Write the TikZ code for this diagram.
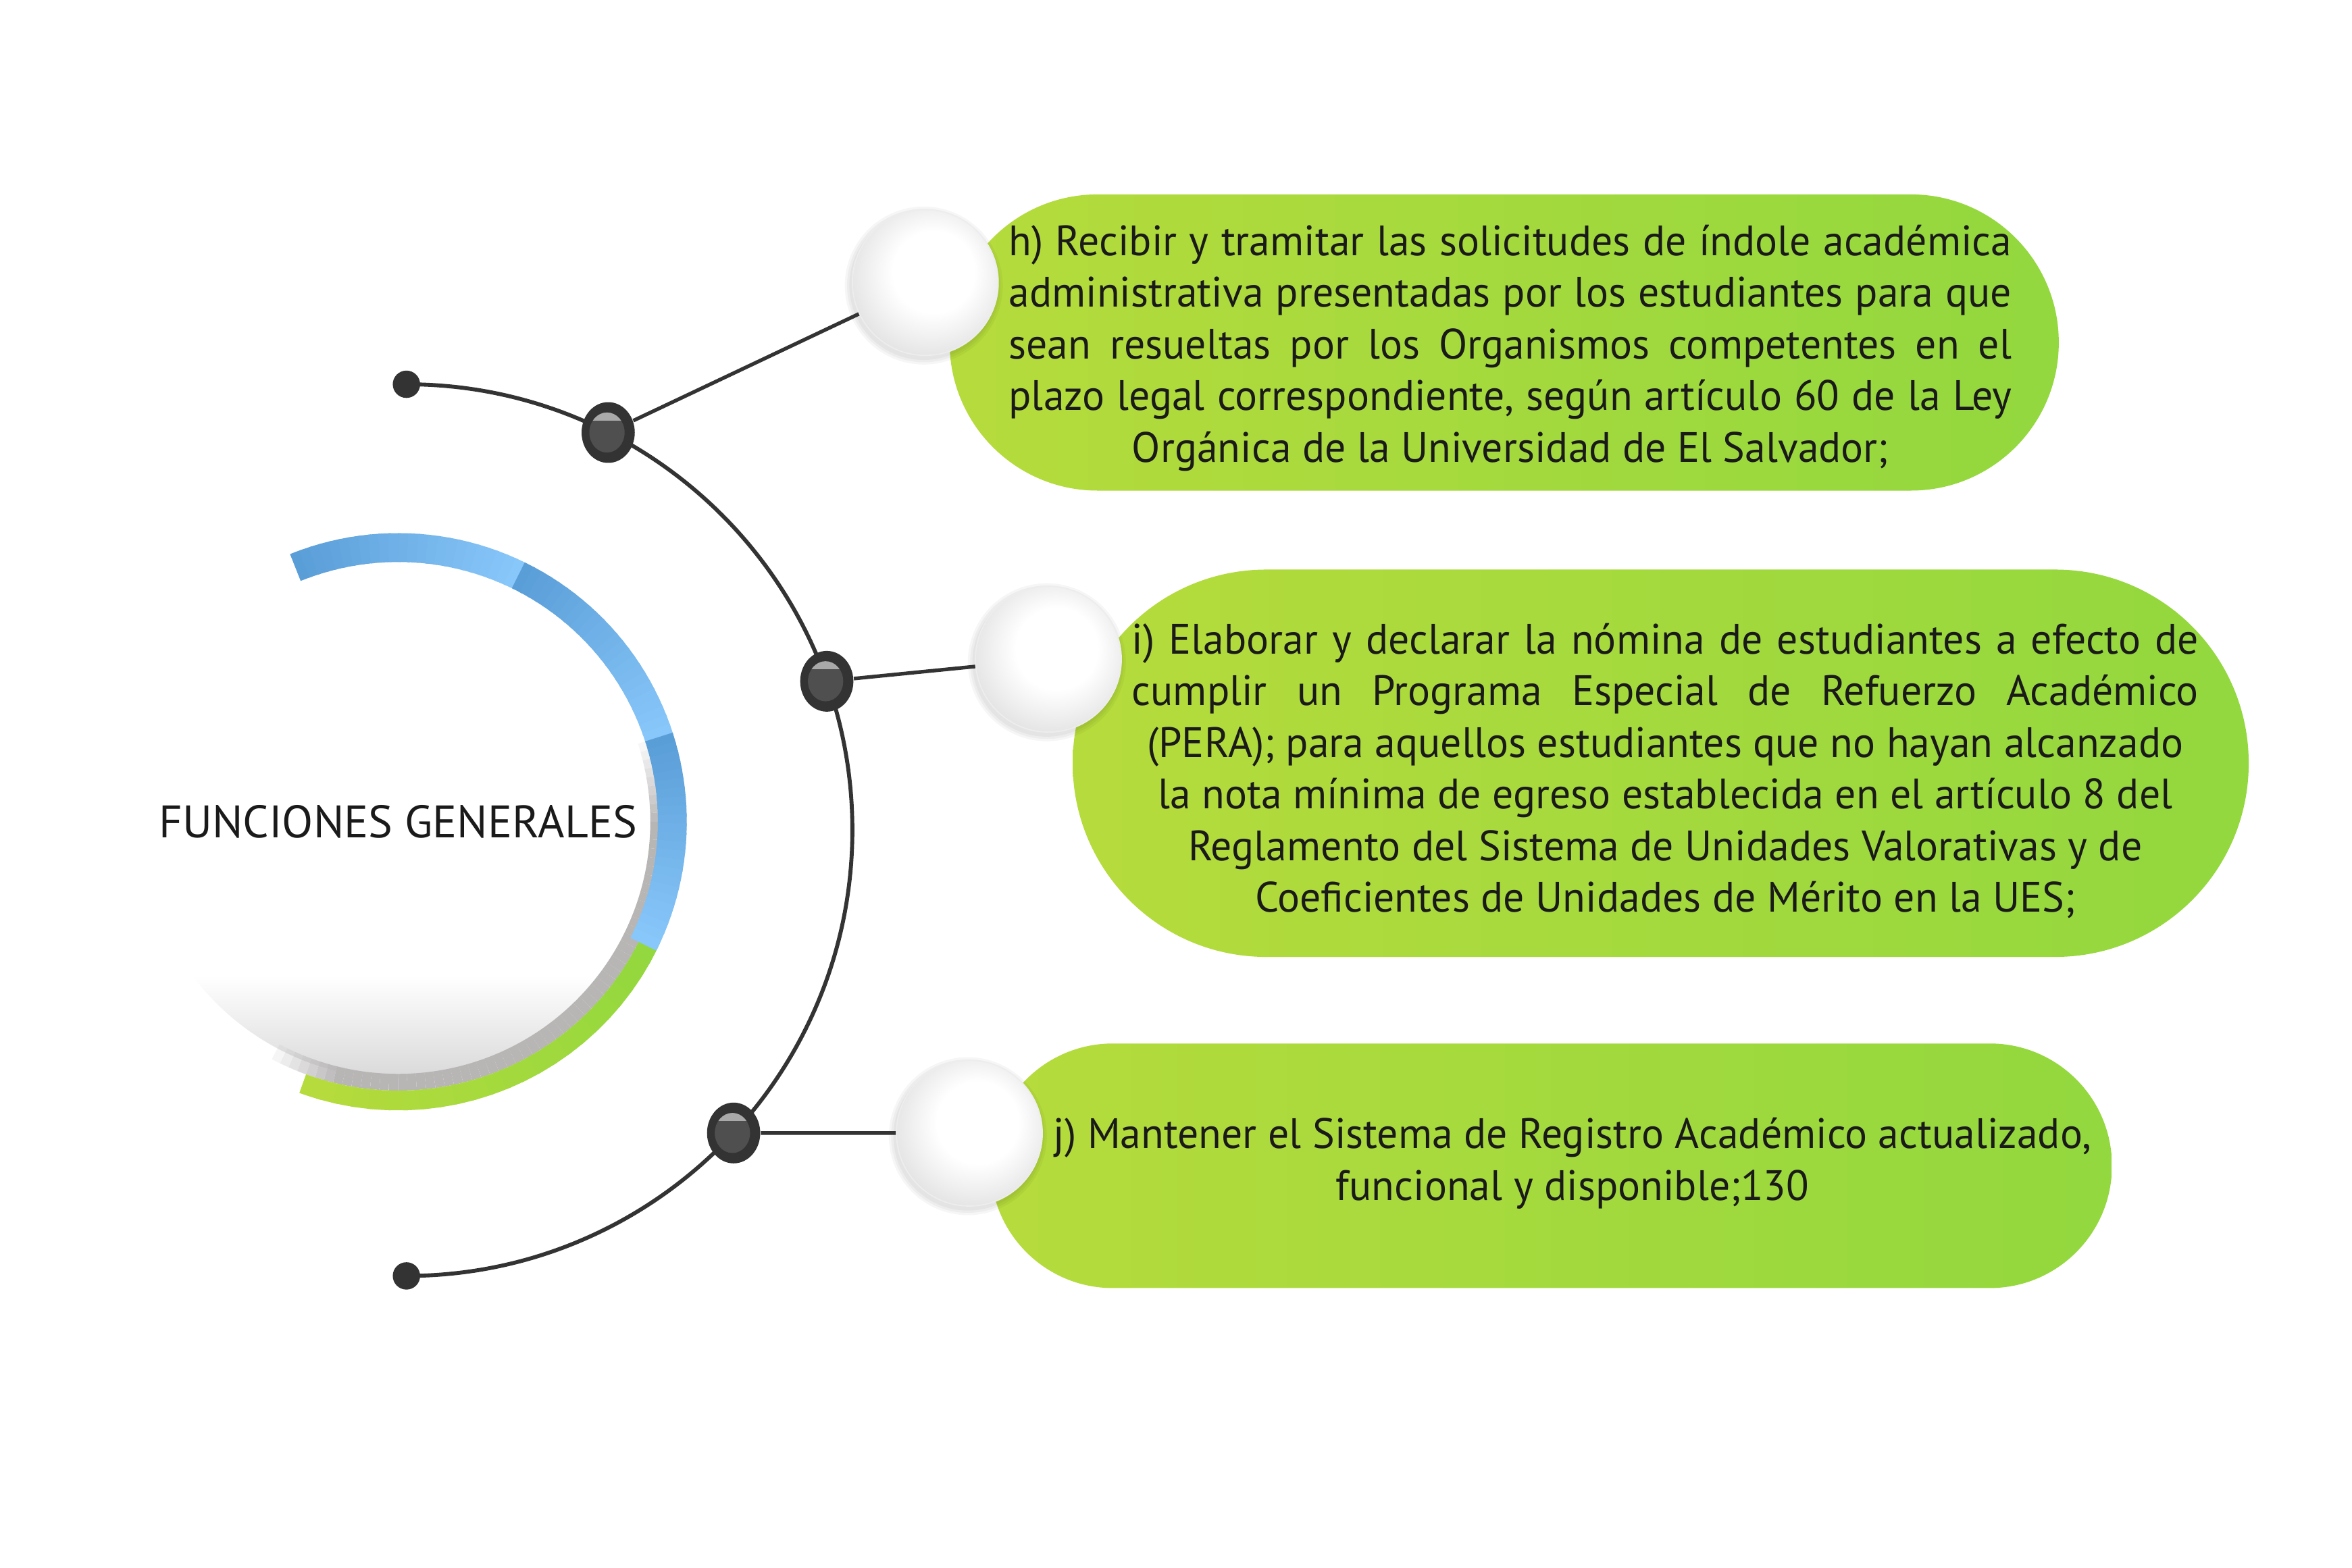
\documentclass[tikz,border=0pt]{standalone}
\usepackage{fontspec}
\setmainfont{PT Sans}
\newfontfamily\bodyfont[FakeStretch=0.98]{PT Sans}
\newfontfamily\titlefont{PT Sans}
\usetikzlibrary{shapes.geometric}
\definecolor{dk}{HTML}{333333}
\definecolor{dkin}{HTML}{4F4F4F}
\definecolor{hl}{HTML}{A9A9A9}
\definecolor{bluedk}{RGB}{90,158,216}
\definecolor{bluelt}{RGB}{136,199,250}
\definecolor{ringgray}{RGB}{184,181,181}
\definecolor{grnA}{RGB}{182,219,60}
\definecolor{grnB}{RGB}{146,216,62}
\definecolor{txtc}{HTML}{1A1A1A}
\pgfdeclareverticalshading{diskshade}{100bp}{color(0bp)=(black!15); color(25bp)=(black!15); color(35bp)=(white); color(100bp)=(white)}
\pgfdeclareradialshading{ballshade}{\pgfpoint{4bp}{5bp}}{color(0bp)=(white); color(14bp)=(white); color(30bp)=(black!12); color(50bp)=(black!12)}
\tikzset{
  conn/.style={draw=dk, line width=1.2pt},
  enddot/.style={circle, fill=dk, inner sep=0pt, minimum size=9pt},
  junction/.style={ellipse, fill=dk, inner sep=0pt, minimum width=17.5pt, minimum height=20pt,
    path picture={
      \fill[dkin] ([xshift=-0.4pt]path picture bounding box.center) ellipse[x radius=5.8pt, y radius=6.6pt];
      \begin{scope}
        \clip ([xshift=-0.4pt]path picture bounding box.center) ellipse[x radius=5.8pt, y radius=6.6pt];
        \fill[hl] ([xshift=-8pt,yshift=3.9pt]path picture bounding box.center) rectangle ++(16pt,4pt);
      \end{scope}}},
  disk/.style={circle, inner sep=0pt, minimum size=169pt, shade, shading=diskshade},
  ball/.style={circle, inner sep=0pt, minimum size=48pt, shade, shading=ballshade, draw=black!7, line width=0.4pt},
  halo/.style={fill=black, opacity=0.035},
  pill/.style={rectangle, inner sep=0pt, left color=grnA, right color=grnB},
  txt/.style={inner sep=0pt, align=center, text=txtc, font=\bodyfont\fontsize{14}{17}\selectfont},
}
\begin{document}
\begin{tikzpicture}[x=0.5pt, y=0.5pt]
\useasboundingbox (0,0) rectangle (1548,1032);
\fill[white] (0,0) rectangle (1548,1032);

% ---- main circle ----
\node[disk, font=\titlefont\fontsize{15}{18}\selectfont, text=txtc] (mc) at (262,491) {FUNCIONES GENERALES};
% gray ring (fades in at the top, fades out at the lower left)
\foreach \k in {0,...,69}{
  \pgfmathsetmacro\aa{20-140*\k/70}
  \pgfmathsetmacro\bb{20-140*(\k+1)/70}
  \pgfmathsetmacro\op{max(0,min(1,\k/10,(69-\k)/8))}
  \draw[line width=5.5pt, color=ringgray, draw opacity=\op] (mc.center) ++(\aa:171.5) arc[start angle=\aa, end angle=\bb, radius=171.5];
}
% green ring
\foreach \k in {0,...,23}{
  \pgfmathsetmacro\aa{-110+84*\k/24}
  \pgfmathsetmacro\bb{-110+84*(\k+1.3)/24}
  \pgfmathtruncatemacro\pc{100*\k/23}
  \draw[line width=6.5pt, color=grnB!\pc!grnA] (mc.center) ++(\aa:183.5) arc[start angle=\aa, end angle=\bb, radius=183.5];
}
% blue ring, three segments
\foreach \s/\e in {112/64, 64/18, 18/-26}{
  \foreach \k in {0,...,23}{
    \pgfmathsetmacro\aa{\s+(\e-\s)*\k/24}
    \pgfmathsetmacro\bb{\s+(\e-\s)*(\k+1.3)/24}
    \pgfmathtruncatemacro\pc{100*\k/23}
    \draw[line width=9.5pt, color=bluelt!\pc!bluedk] (mc.center) ++(\aa:180.5) arc[start angle=\aa, end angle=\bb, radius=180.5];
  }
}

% ---- big black arc ----
\coordinate (ac) at (267.5,485.5);
\node[enddot] (dtop) at (267.5,779) {};
\node[enddot] (dbot) at (267.5,192) {};
\draw[conn, line width=1.3pt] (dtop.center) arc[start angle=90, end angle=-90, radius=293.5];

% ---- pills ----
\node[pill, minimum width=365pt, minimum height=97.5pt, rounded corners=48.7pt] (ph) at (990,806.5) {};
\node[pill, minimum width=387pt, minimum height=127.5pt, rounded corners=63.7pt] (pi) at (1093,529.5) {};
\node[pill, minimum width=369pt, minimum height=80.5pt, rounded corners=40.2pt] (pj) at (1021,264.5) {};

% ---- balls ----
\coordinate (ch) at (609,846);
\coordinate (ci) at (690,598);
\coordinate (cj) at (638,286);
\foreach \c in {ch,ci,cj}{
  \foreach \r in {1,2.5,4}{
    \fill[halo] ([shift={(-1,-2)}]\c) circle[radius=48+\r];
  }
}
\node[ball] (wh) at (ch) {};
\node[ball] (wi) at (ci) {};
\node[ball] (wj) at (cj) {};

% ---- junctions and connectors ----
\node[junction] (jh) at ([shift={(63.1:293.5)}]ac) {};
\node[junction] (ji) at ([shift={(19.5:293.5)}]ac) {};
\node[junction] (jj) at ([shift={(-42.8:293.5)}]ac) {};
\draw[conn] (jh) -- (wh);
\draw[conn] (ji) -- (wi);
\draw[conn] (jj) -- (wj);

% ---- texts ----
\node[txt] (th) at (994,803) {%
\makebox[330pt][s]{h) Recibir y tramitar las solicitudes de índole académica}\\
\makebox[330pt][s]{administrativa presentadas por los estudiantes para que}\\
\makebox[330pt][s]{sean resueltas por los Organismos competentes en el}\\
\makebox[330pt][s]{plazo legal correspondiente, según artículo 60 de la Ley}\\
Orgánica de la Universidad de El Salvador;};

\node[txt] (ti) at (1096,524.5) {%
\makebox[351pt][s]{i) Elaborar y declarar la nómina de estudiantes a efecto de}\\
\makebox[351pt][s]{cumplir un Programa Especial de Refuerzo Académico}\\
(PERA); para aquellos estudiantes que no hayan alcanzado\\
la nota mínima de egreso establecida en el artículo 8 del\\
Reglamento del Sistema de Unidades Valorativas y de\\
Coeficientes de Unidades de Mérito en la UES;};

\node[txt] (tj) at (1035,266) {%
j) Mantener el Sistema de Registro Académico actualizado,\\
funcional y disponible;130};
\end{tikzpicture}
\end{document}
